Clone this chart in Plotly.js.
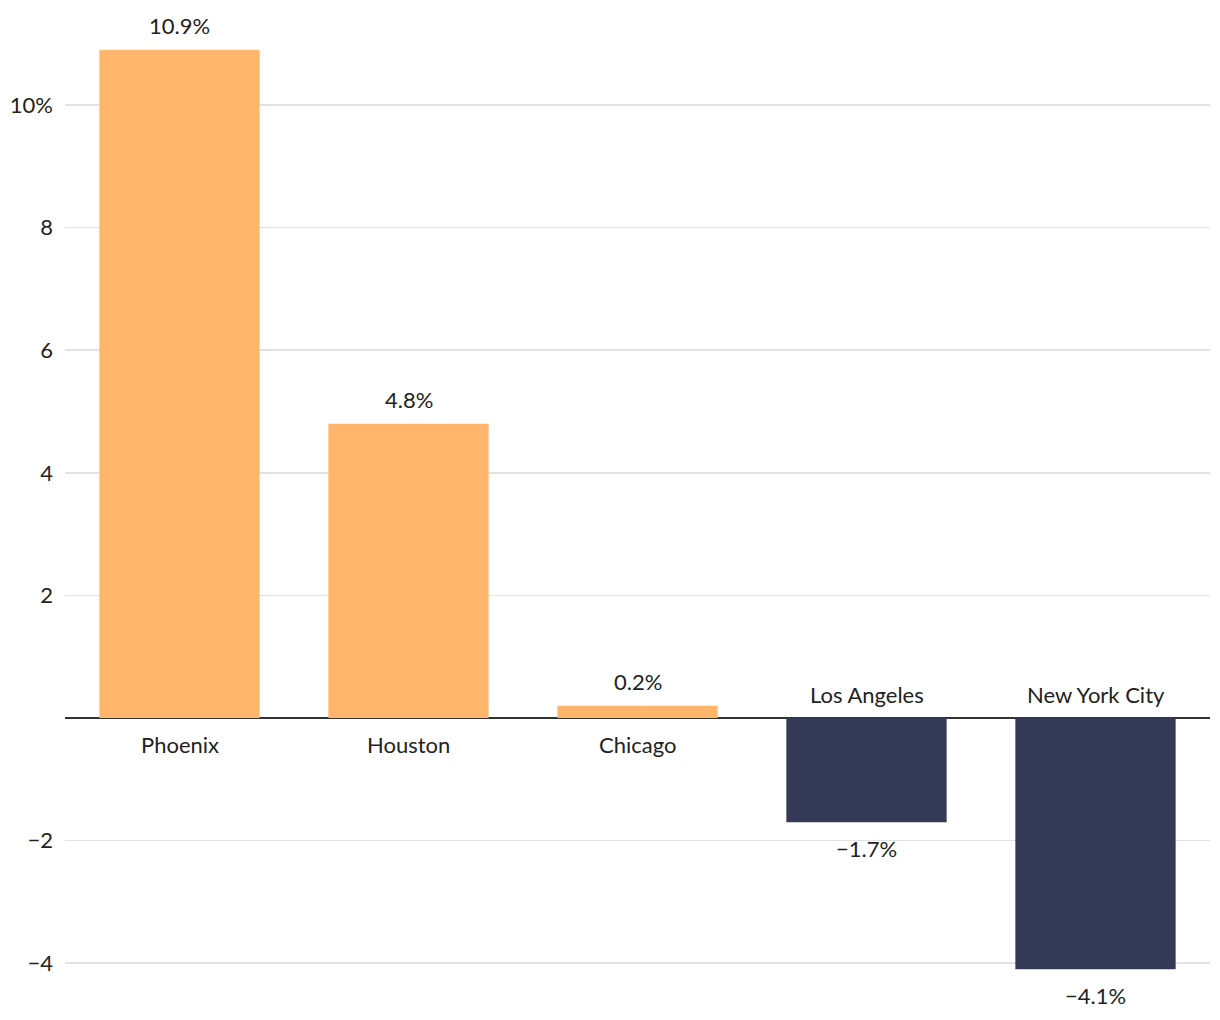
<!DOCTYPE html>
<html>
<head>
<meta charset="utf-8">
<script src="https://cdn.plot.ly/plotly-3.0.1.min.js"></script>
<style>html,body{margin:0;padding:0;background:#fff;}#chart{width:1220px;height:1020px;}</style>
</head>
<body>
<div id="chart"></div>
<script>
const cities = ["Phoenix", "Houston", "Chicago", "Los Angeles", "New York City"];
const changes = [10.9, 4.8, 0.2, -1.7, -4.1];
const valueLabels = ["10.9%", "4.8%", "0.2%", "\u22121.7%", "\u22124.1%"];
const tickVals = [-4, -2, 2, 4, 6, 8, 10];
const tickText = ["\u22124", "\u22122", "2", "4", "6", "8", "10%"];

const posColor = "#FFB56B";
const negColor = "#343A55";
const fontFamily = "'Source Sans Pro', Lato, 'Noto Sans', sans-serif";

const trace = {
  type: "bar",
  x: cities,
  y: changes,
  marker: { color: changes.map(v => v >= 0 ? posColor : negColor) },
  hoverinfo: "skip"
};

const annotations = [];
cities.forEach((c, i) => {
  const v = changes[i];
  const up = v >= 0;
  annotations.push({
    x: c, y: v, text: valueLabels[i], showarrow: false,
    yshift: up ? 24 : -26,
    font: { size: 22, color: "#222", family: fontFamily }
  });
  annotations.push({
    x: c, y: 0, text: c, showarrow: false,
    yshift: up ? -26 : 24,
    font: { size: 22, color: "#222", family: fontFamily }
  });
});

const layout = {
  width: 1220, height: 1020,
  margin: { l: 65, r: 10, t: 10, b: 10 },
  paper_bgcolor: "#fff", plot_bgcolor: "#fff",
  bargap: 0.30,
  showlegend: false,
  font: { family: fontFamily, size: 22, color: "#222" },
  xaxis: {
    showticklabels: false, showgrid: false, zeroline: false, showline: false,
    range: [-0.5, 4.5], fixedrange: true
  },
  yaxis: {
    range: [-4.763, 11.55],
    tickmode: "array", tickvals: tickVals, ticktext: tickText,
    showgrid: true, gridcolor: "#e2e2e2", gridwidth: 1.5,
    zeroline: true, zerolinecolor: "#333", zerolinewidth: 1.5,
    showline: false, ticks: "",
    ticklabelstandoff: 11,
    tickfont: { size: 22, color: "#222", family: fontFamily }
  },
  annotations: annotations
};

Plotly.newPlot("chart", [trace], layout, { displayModeBar: false, staticPlot: true });
</script>
</body>
</html>
